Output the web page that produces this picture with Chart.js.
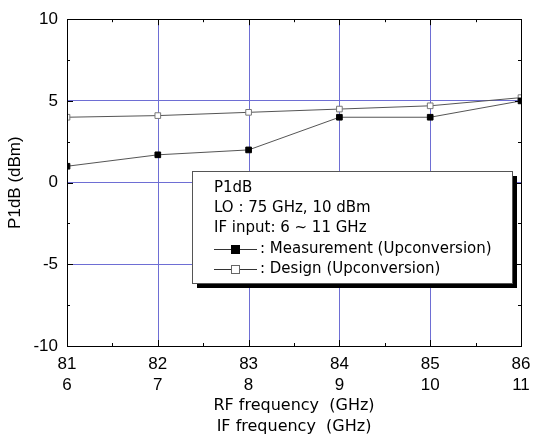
<!DOCTYPE html>
<html>
<head>
<meta charset="utf-8">
<script src="https://cdn.jsdelivr.net/npm/chart.js@4"></script>
<style>
  html, body { margin: 0; padding: 0; background: #fff; }
  #wrap { width: 533px; height: 437px; position: relative; }
</style>
</head>
<body>
<div id="wrap"><canvas id="grafico"></canvas></div>
<script>
// dados
const rfFreq = [81, 82, 83, 84, 85, 86];
const ifFreq = [6, 7, 8, 9, 10, 11];
const medido = [1.0, 1.7, 2.0, 4.0, 4.0, 5.0];
const projeto = [4.0, 4.1, 4.3, 4.5, 4.7, 5.2];
const yTicks = [-10, -5, 0, 5, 10];
const legendaTexto = ["P1dB", "LO : 75 GHz, 10 dBm", "IF input: 6 ~ 11 GHz"];
const nomesSeries = [": Measurement (Upconversion)", ": Design (Upconversion)"];

const FONTE = "Liberation Sans, Arial, sans-serif";
const FONTE_LARGA = "DejaVu Sans, Verdana, sans-serif";
const corGrade = "#6e6ed4";

function pontos(ys) {
  return rfFreq.map((x, i) => ({ x: x, y: ys[i] }));
}

// grade vertical desenhada à mão (só nas marcas internas)
const gradeX = {
  id: "gradeX",
  beforeDatasetsDraw(chart) {
    const ctx = chart.ctx;
    const a = chart.chartArea;
    const sx = chart.scales.x;
    ctx.save();
    ctx.strokeStyle = corGrade;
    ctx.lineWidth = 1;
    ctx.beginPath();
    rfFreq.slice(1, -1).forEach((v) => {
      const px = Math.round(sx.getPixelForValue(v)) + 0.5;
      ctx.moveTo(px, a.top);
      ctx.lineTo(px, a.bottom);
    });
    ctx.stroke();
    ctx.restore();
  }
};

// ticks para dentro + minor ticks nos quatro lados
const ticksDentro = {
  id: "ticksDentro",
  afterDraw(chart) {
    const ctx = chart.ctx;
    const a = chart.chartArea;
    const sx = chart.scales.x, sy = chart.scales.y;
    ctx.save();
    ctx.strokeStyle = "#000";
    ctx.lineWidth = 1;
    ctx.beginPath();
    for (let v = 81; v <= 86.001; v += 0.5) {
      const px = Math.round(sx.getPixelForValue(v)) + 0.5;
      const len = Number.isInteger(v) ? 6 : 3;
      ctx.moveTo(px, a.bottom); ctx.lineTo(px, a.bottom - len);
      ctx.moveTo(px, a.top); ctx.lineTo(px, a.top + len);
    }
    for (let v = -10; v <= 10; v += 2.5) {
      const py = Math.round(sy.getPixelForValue(v)) + 0.5;
      const len = v % 5 === 0 ? 6 : 3;
      ctx.moveTo(a.left, py); ctx.lineTo(a.left + len, py);
      ctx.moveTo(a.right, py); ctx.lineTo(a.right - len, py);
    }
    ctx.stroke();
    ctx.strokeRect(Math.round(a.left) + 0.5, Math.round(a.top) + 0.5,
      Math.round(a.right - a.left), Math.round(a.bottom - a.top));
    ctx.restore();
  }
};

// caixa da legenda com sombra
const caixaLegenda = {
  id: "caixaLegenda",
  afterDraw(chart) {
    const ctx = chart.ctx;
    const bx = 192, by = 171, bw = 320, bh = 112;
    ctx.save();
    ctx.fillStyle = "#000";
    ctx.fillRect(bx + 5, by + 5, bw, bh);
    ctx.fillStyle = "#fff";
    ctx.fillRect(bx, by, bw, bh);
    ctx.strokeStyle = "#555";
    ctx.lineWidth = 1;
    ctx.strokeRect(bx + 0.5, by + 0.5, bw, bh);
    ctx.fillStyle = "#000";
    ctx.font = "15px " + FONTE_LARGA;
    ctx.textBaseline = "middle";
    const x0 = 214;
    let y = 188;
    legendaTexto.forEach((t) => { ctx.fillText(t, x0, y); y += 20.25; });
    nomesSeries.forEach((t, i) => {
      const ly = Math.round(y) + 0.5;
      ctx.strokeStyle = "#333";
      ctx.beginPath(); ctx.moveTo(x0, ly); ctx.lineTo(x0 + 43, ly); ctx.stroke();
      if (i === 0) {
        ctx.fillStyle = "#000";
        ctx.fillRect(x0 + 17, ly - 4.5, 9, 9);
      } else {
        ctx.fillStyle = "#fff";
        ctx.fillRect(x0 + 17, ly - 4.5, 9, 9);
        ctx.strokeStyle = "#666";
        ctx.strokeRect(x0 + 17.5, ly - 4, 8, 8);
      }
      ctx.fillStyle = "#000";
      ctx.fillText(t, x0 + 46, y);
      y += 20.25;
    });
    ctx.restore();
  }
};

const ctx = document.getElementById("grafico").getContext("2d");
const grafico = new Chart(ctx, {
  type: "line",
  data: {
    datasets: [
      {
        label: "Measurement",
        data: pontos(medido),
        borderColor: "#555",
        borderWidth: 1,
        pointStyle: "rect",
        pointRadius: 4,
        pointBackgroundColor: "#000",
        pointBorderColor: "#000",
        pointBorderWidth: 1,
        clip: 0,
      },
      {
        label: "Design",
        data: pontos(projeto),
        borderColor: "#555",
        borderWidth: 1,
        pointStyle: "rect",
        pointRadius: 4,
        pointBackgroundColor: "#fff",
        pointBorderColor: "#777",
        pointBorderWidth: 1,
        clip: 0,
      },
    ],
  },
  options: {
    responsive: true,
    maintainAspectRatio: false,
    animation: false,
    layout: { padding: { top: 14, right: 12, left: 0, bottom: 0 } },
    plugins: {
      legend: { display: false },
      tooltip: { enabled: false },
    },
    scales: {
      x: {
        type: "linear",
        min: 81,
        max: 86,
        afterFit(s) { s.height = 91; s.paddingLeft = 0; s.paddingRight = 0; },
        afterBuildTicks(s) { s.ticks = rfFreq.map((v) => ({ value: v })); },
        border: { display: false },
        grid: { display: false, drawTicks: false },
        ticks: {
          color: "#000",
          padding: 8,
          autoSkip: false,
          font: { family: FONTE, size: 17, lineHeight: 1.22 },
          maxRotation: 0,
          callback: (v) => {
            const i = rfFreq.indexOf(v);
            return i < 0 ? "" : [String(rfFreq[i]), String(ifFreq[i])];
          },
        },
        title: {
          display: true,
          text: ["RF frequency  (GHz)", "IF frequency  (GHz)"],
          color: "#000",
          font: { family: FONTE_LARGA, size: 16, lineHeight: 1.3 },
          padding: { top: 0, bottom: 0 },
        },
      },
      y: {
        min: -10,
        max: 10,
        afterFit(s) { s.width = 67; },
        afterBuildTicks(s) { s.ticks = yTicks.map((v) => ({ value: v })); },
        border: { display: false },
        grid: {
          drawTicks: false,
          lineWidth: 1,
          color: (c) => (c.tick && (c.tick.value === 10 || c.tick.value === -10) ? "rgba(0,0,0,0)" : corGrade),
        },
        ticks: {
          color: "#000",
          padding: 9,
          font: { family: FONTE, size: 17 },
        },
        title: {
          display: true,
          text: "P1dB (dBm)",
          color: "#000",
          font: { family: FONTE, size: 17 },
          padding: { top: 5, bottom: 4 },
        },
      },
    },
  },
  plugins: [gradeX, ticksDentro, caixaLegenda],
});
</script>
</body>
</html>
